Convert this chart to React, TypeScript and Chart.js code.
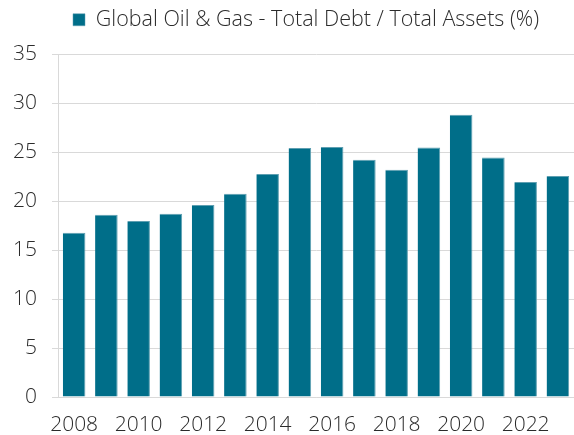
import React, { useEffect, useRef } from "react";
import { Chart, registerables } from "chart.js";

Chart.register(...registerables);

const years = ["2008","2009","2010","2011","2012","2013","2014","2015","2016","2017","2018","2019","2020","2021","2022","2023"];
const debtToAssets = [16.75, 18.6, 17.95, 18.7, 19.6, 20.75, 22.75, 25.4, 25.5, 24.2, 23.2, 25.45, 28.8, 24.45, 21.95, 22.55];
const seriesLabel = "Global Oil & Gas - Total Debt / Total Assets (%)";
const yTicks = [0, 5, 10, 15, 20, 25, 30, 35];

const legendHeightPlugin = {
  id: "legendHeight",
  beforeLayout(chart: any) {
    const lg = chart.legend;
    if (lg && !lg.__patched) {
      const orig = lg.fit.bind(lg);
      lg.fit = function () {
        orig();
        this.height = 54;
      };
      lg.__patched = true;
    }
  },
  afterLayout(chart: any) {
    const lg = chart.legend;
    if (lg) {
      lg.left = 38;
      lg.right = 574;
    }
  },
};

export default function App() {
  const ref = useRef<HTMLCanvasElement | null>(null);
  useEffect(() => {
    document.body.style.margin = "0";
    const font = "Open Sans";
    const chart = new Chart(ref.current!, {
      type: "bar",
      data: {
        labels: years,
        datasets: [
          {
            label: seriesLabel,
            data: debtToAssets,
            backgroundColor: "#006E89",
            borderColor: "#5E9FB1",
            borderWidth: { top: 1, right: 1, left: 0, bottom: 0 },
            borderSkipped: false,
            barPercentage: 0.7,
            categoryPercentage: 1,
          },
        ],
      },
      plugins: [legendHeightPlugin],
      options: {
        animation: false,
        responsive: false,
        layout: { padding: 0 },
        plugins: {
          legend: {
            display: true,
            position: "top",
            labels: {
              boxWidth: 12,
              boxHeight: 12,
              padding: 9,
              color: "#2b2b2b",
              font: { family: font, size: 21.5, weight: "350" },
            },
          },
          tooltip: { enabled: false },
        },
        scales: {
          x: {
            grid: { display: false, drawTicks: false },
            border: { display: true, color: "#d9d9d9", width: 1 },
            ticks: {
              color: "#2b2b2b",
              font: { family: font, size: 21, weight: "350" },
              maxRotation: 0,
              autoSkip: false,
              padding: 15,
              callback: function (_v: any, i: number) {
                return i % 2 === 0 ? years[i] : "";
              },
            },
            afterFit: (s: any) => { s.height = 38; },
          },
          y: {
            min: 0,
            max: 35,
            afterBuildTicks: (s: any) => { s.ticks = yTicks.map((v) => ({ value: v })); },
            grid: { color: "#d9d9d9", lineWidth: 1, drawTicks: true, tickLength: 6 },
            border: { display: true, color: "#d9d9d9", width: 1 },
            ticks: {
              color: "#2b2b2b",
              font: { family: font, size: 21, weight: "350" },
              padding: 15,
            },
            afterFit: (s: any) => { s.width = 58; },
          },
        },
      },
    });
    return () => chart.destroy();
  }, []);
  return (
    <div style={{ position: "absolute", left: 0, top: 0, width: 574, height: 435 }}>
      <canvas ref={ref} width={574} height={435} style={{ width: 574, height: 435 }} />
    </div>
  );
}
